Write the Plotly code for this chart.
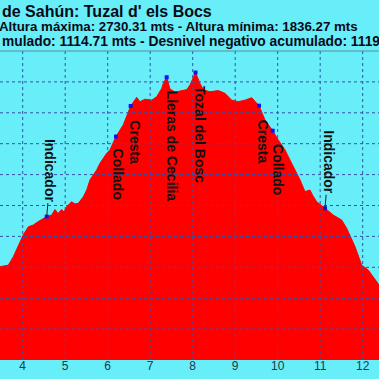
import plotly.graph_objects as go

# ---- data ----
dist_km = [3.466, 3.661, 3.779, 3.897, 4.014, 4.132, 4.250, 4.367, 4.485, 4.565,
           4.682, 4.760, 4.831, 4.918, 4.972, 5.035, 5.113, 5.153, 5.231, 5.308,
           5.426, 5.506, 5.584, 5.741, 5.819, 5.977, 6.054, 6.125, 6.195, 6.367,
           6.478, 6.541, 6.682, 6.760, 6.878, 7.035, 7.153, 7.271, 7.308, 7.388,
           7.466, 7.584, 7.725, 7.859, 7.937, 8.066, 8.172, 8.250, 8.407, 8.602,
           8.760, 8.918, 9.073, 9.231, 9.388, 9.466, 9.560, 9.701, 9.882, 10.014,
           10.172, 10.290, 10.525, 10.642, 10.760, 10.831, 10.918, 11.113, 11.308, 11.506,
           11.624, 11.819, 11.977, 12.132, 12.250, 12.384]
elev_m = [2102, 2107, 2134, 2172, 2205, 2231, 2237, 2248, 2259, 2264,
          2269, 2287, 2274, 2287, 2279, 2296, 2307, 2312, 2305, 2307,
          2328, 2350, 2383, 2415, 2437, 2469, 2480, 2501, 2523, 2561,
          2598, 2622, 2650, 2636, 2644, 2641, 2652, 2679, 2695, 2715,
          2677, 2667, 2671, 2675, 2690, 2730.31, 2695, 2674, 2668, 2672,
          2663, 2641, 2636, 2641, 2649, 2636, 2623, 2577, 2542, 2512,
          2480, 2447, 2383, 2345, 2350, 2331, 2312, 2291, 2269, 2253,
          2226, 2167, 2107, 2091, 2070, 2043]

wp_names = ["Indicador", "Collado", "Cresta", "Lleras de Cecilia", "Tozal del Bosc",
            "Cresta", "Collado", "Indicador"]
wp_km = [4.565, 6.195, 6.541, 7.388, 8.066, 9.560, 9.882, 11.113]
wp_elev = [2264, 2523, 2622, 2715, 2730.31, 2623, 2542, 2291]

x_ticks = [4, 5, 6, 7, 8, 9, 10, 11, 12]
y_grid = [1900, 2000, 2100, 2200, 2300, 2400, 2500, 2600, 2700]

title_lines = ["de Sahún: Tuzal d' els Bocs",
               "Altura máxima: 2730.31 mts - Altura mínima: 1836.27 mts",
               "mulado: 1114.71 mts - Desnivel negativo acumulado: 1119"]

# ---- styling ----
BG = "#68EEF8"
FONT = "Liberation Sans, Arial, sans-serif"
label_dx = [4, 2, 4, 5, 5, 4, 6, 4]
label_dy = [-46, 38, 36, 69, 62, 36, 39, -46]
label_arrow = [True, False, False, False, False, False, False, True]
title_shift = [(0, 40), (-3, 25), (0, 10)]
title_size = [16, 13.3, 13.8]

fig = go.Figure()
fig.add_trace(go.Scatter(x=dist_km, y=elev_m, mode="lines", fill="tozeroy",
                         fillcolor="#FF0000", line=dict(color="#FF0000", width=1),
                         hoverinfo="skip", showlegend=False))
fig.add_trace(go.Scatter(x=wp_km, y=wp_elev, mode="markers",
                         marker=dict(color="#1010F0", size=4, symbol="square"),
                         hoverinfo="skip", showlegend=False))

shapes = []
for xv in x_ticks:
    shapes.append(dict(type="line", xref="x", yref="paper", x0=xv, x1=xv, y0=0, y1=1,
                       layer="above", line=dict(color="#3A4FA8", width=1, dash="dot")))
for yv in y_grid:
    shapes.append(dict(type="line", xref="paper", yref="y", x0=0, x1=1, y0=yv, y1=yv,
                       layer="above", line=dict(color="#3A4FA8", width=1, dash="dot")))
shapes.append(dict(type="line", xref="paper", yref="paper", x0=0, x1=1, y0=1, y1=1,
                   layer="above", line=dict(color="#5E8C98", width=1)))

annotations = []
for name, xk, ye, dx, dy, arr in zip(wp_names, wp_km, wp_elev, label_dx, label_dy, label_arrow):
    annotations.append(dict(x=xk, y=ye, xref="x", yref="y", text="<b>%s</b>" % name, textangle=90,
                            showarrow=True, arrowhead=0, arrowwidth=1,
                            arrowcolor="#202020" if arr else "rgba(0,0,0,0)",
                            ax=dx, ay=dy, font=dict(family=FONT, size=14, color="#111111"),
                            borderpad=0))
for line, (xs, ys), fs in zip(title_lines, title_shift, title_size):
    annotations.append(dict(x=0, y=1, xref="paper", yref="paper", text="<b>%s</b>" % line,
                            showarrow=False, xanchor="left", yanchor="middle",
                            xshift=xs, yshift=ys,
                            font=dict(family=FONT, size=fs, color="#0A0A18")))

fig.update_layout(
    width=379, height=379,
    margin=dict(l=0, r=0, t=51, b=19, pad=0),
    paper_bgcolor=BG, plot_bgcolor=BG,
    shapes=shapes, annotations=annotations,
    xaxis=dict(range=[3.466, 12.384], tickvals=x_ticks, showgrid=False, zeroline=False,
               showline=False, ticks="", ticklabelstandoff=-3,
               tickfont=dict(family=FONT, size=12, color="#1A3A48"),
               tickprefix="<b>", ticksuffix="</b>"),
    yaxis=dict(range=[1800, 2800], showgrid=False, zeroline=False, showticklabels=False,
               showline=False, ticks=""),
)

fig.write_html("out.html", config={"displayModeBar": False, "staticPlot": True},
               post_script="document.body.style.margin='0';document.body.style.padding='0';"
                           "document.body.style.overflow='hidden';")
